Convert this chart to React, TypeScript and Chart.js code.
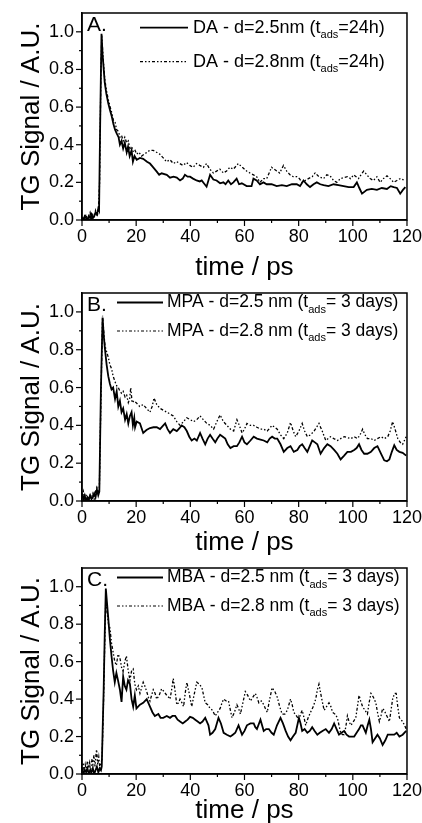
import React, { useEffect, useRef } from 'react';
import { Chart, registerables } from 'chart.js';
Chart.register(...registerables);

const FONT = '"Liberation Sans", Arial, Helvetica, sans-serif';

const xTickLabels = ['0', '20', '40', '60', '80', '100', '120'];
const yTickLabels = ['0.0', '0.2', '0.4', '0.6', '0.8', '1.0'];
const xTitle = 'time / ps';
const yTitle = 'TG Signal / A.U.';

// Panel A: DA, t_ads = 24h
const daSolid = [[0,0.01],[0.5,0.0],[1,0.02],[1.5,0.01],[2,0.0],[2.5,0.02],[3,0.01],[3.5,0.03],[4,0.01],[4.5,0.02],[5,0.04],[5.5,0.03],[6,0.06],[6.3,0.05],[6.7,0.5],[7.2,0.99],[7.6,0.88],[8.4,0.73],[9,0.67],[9.7,0.62],[10.4,0.58],[11,0.55],[11.6,0.51],[12.2,0.48],[12.8,0.46],[13.5,0.44],[14,0.40],[14.6,0.42],[15.2,0.38],[15.8,0.41],[16.5,0.36],[17,0.39],[17.6,0.34],[18.3,0.37],[18.8,0.31],[19.4,0.34],[20.2,0.32],[21.4,0.33],[22.6,0.325],[24,0.31],[25.1,0.30],[26.3,0.28],[27.6,0.257],[28.5,0.24],[29.4,0.248],[31.3,0.24],[32.5,0.225],[33.8,0.23],[35,0.225],[36.2,0.21],[37.2,0.22],[38,0.24],[39,0.23],[39.9,0.23],[41,0.22],[42.3,0.21],[43.5,0.205],[44.2,0.21],[45,0.195],[46,0.177],[47.3,0.24],[48.5,0.215],[49.7,0.21],[51,0.195],[52.2,0.2],[53,0.19],[54,0.21],[55,0.19],[55.9,0.2],[57.1,0.22],[58,0.19],[59,0.195],[60.8,0.18],[62.6,0.18],[63.3,0.22],[64.5,0.21],[65.7,0.19],[67,0.2],[68.2,0.19],[70,0.19],[71.9,0.18],[73.8,0.185],[75.6,0.18],[77.5,0.19],[79.3,0.19],[80.5,0.18],[81.8,0.21],[83,0.19],[84.2,0.175],[85.5,0.19],[86.7,0.2],[88,0.19],[89.2,0.185],[91,0.18],[92.9,0.19],[94.7,0.185],[96.6,0.18],[98.5,0.175],[100.3,0.175],[101.5,0.20],[102.4,0.17],[103.4,0.14],[105.2,0.16],[107,0.165],[108.9,0.16],[110.7,0.17],[112.6,0.165],[114,0.18],[115.1,0.175],[116.3,0.17],[117.5,0.14],[118.5,0.16],[119.4,0.175]];
const daDotted = [[0,0.0],[0.5,0.02],[1,0.01],[1.5,0.03],[2,0.0],[2.5,0.02],[3,0.04],[3.5,0.01],[4,0.03],[4.5,0.02],[5,0.05],[5.5,0.02],[6,0.04],[6.5,0.2],[7,0.8],[7.3,0.98],[7.8,0.86],[8.4,0.75],[9,0.69],[9.7,0.64],[10.4,0.6],[11,0.57],[11.6,0.53],[12.2,0.52],[12.8,0.48],[13.5,0.47],[14,0.44],[14.6,0.45],[15.2,0.42],[15.8,0.44],[16.5,0.41],[17.1,0.42],[17.7,0.38],[18.3,0.39],[19,0.36],[19.6,0.37],[20.2,0.35],[21,0.36],[22,0.34],[23,0.35],[24,0.36],[25,0.37],[26.3,0.37],[27.5,0.36],[28.7,0.35],[30,0.33],[31.2,0.31],[32.5,0.32],[33.7,0.30],[35,0.31],[36.1,0.30],[37.3,0.29],[38.6,0.305],[39.8,0.29],[41,0.28],[42.3,0.30],[43.5,0.29],[44.8,0.28],[46,0.30],[47.2,0.27],[48.5,0.25],[49.7,0.26],[50.9,0.27],[52.2,0.25],[53.4,0.26],[54.6,0.28],[55.9,0.27],[57.7,0.30],[59.2,0.28],[60.8,0.26],[62,0.25],[63.3,0.24],[64.5,0.23],[65.7,0.20],[67,0.22],[68.2,0.22],[70,0.28],[71.9,0.26],[73,0.25],[74.4,0.29],[75.6,0.26],[76.8,0.24],[78,0.23],[79.3,0.23],[80.3,0.22],[81.2,0.20],[82.4,0.21],[83.6,0.22],[85,0.23],[86.1,0.25],[87.5,0.23],[89.2,0.22],[90.4,0.24],[91.6,0.235],[92.9,0.21],[94.1,0.20],[95.4,0.22],[96.6,0.225],[98,0.23],[99.2,0.22],[100.3,0.24],[101.2,0.23],[102.1,0.22],[103,0.24],[104,0.26],[105.2,0.24],[106.4,0.22],[107.6,0.21],[108.9,0.23],[110.1,0.20],[111.3,0.22],[112.6,0.235],[113.8,0.22],[115.1,0.20],[116.3,0.21],[117.5,0.22],[118.5,0.215],[119.4,0.21]];

// Panel B: MPA, t_ads = 3 days
const mpaSolid = [[0,0.04],[0.5,0.01],[1,0.03],[1.5,0.0],[2,0.02],[2.5,0.01],[3,0.03],[3.5,0.01],[4,0.02],[4.5,0.04],[5,0.02],[5.5,0.06],[6,0.03],[6.4,0.05],[7,0.6],[7.6,0.97],[8,0.88],[8.5,0.8],[9.1,0.72],[9.7,0.66],[10.3,0.62],[10.9,0.59],[11.5,0.6],[12.2,0.54],[12.8,0.58],[13.4,0.50],[14,0.53],[14.6,0.47],[15.2,0.49],[15.9,0.43],[16.5,0.46],[17.1,0.41],[17.7,0.45],[18.3,0.47],[18.8,0.40],[19.3,0.44],[19.6,0.39],[20.2,0.42],[21.4,0.41],[22.6,0.36],[23.8,0.375],[25.1,0.386],[26.4,0.39],[27.6,0.39],[28.8,0.38],[29.7,0.395],[30.7,0.41],[31.6,0.38],[32.5,0.36],[33.7,0.38],[35,0.37],[36,0.385],[36.8,0.40],[37.8,0.39],[38.7,0.37],[39.6,0.34],[40.5,0.32],[41.5,0.33],[42.4,0.32],[43.6,0.36],[44.5,0.33],[45.5,0.30],[46.4,0.33],[47.3,0.35],[48.2,0.33],[49.2,0.31],[50,0.33],[51,0.35],[52,0.34],[52.9,0.33],[53.8,0.30],[54.8,0.28],[56,0.29],[57.2,0.29],[58.1,0.31],[59.1,0.34],[60,0.31],[60.9,0.30],[62.2,0.32],[63.4,0.34],[64.6,0.33],[65.9,0.325],[67.1,0.32],[68.4,0.31],[69.3,0.33],[70.2,0.34],[71.2,0.33],[72.1,0.33],[73.3,0.30],[74.5,0.26],[75.8,0.28],[77,0.29],[78.2,0.26],[79.5,0.27],[80.4,0.29],[81.3,0.30],[82.2,0.28],[83.2,0.26],[84.1,0.29],[85,0.32],[86,0.31],[86.9,0.30],[88.1,0.25],[89.4,0.28],[90.6,0.30],[91.8,0.29],[93.1,0.27],[94.3,0.25],[95.5,0.22],[96.8,0.24],[98,0.26],[99.3,0.26],[100.5,0.27],[101.4,0.28],[102.3,0.30],[103.2,0.27],[104.2,0.25],[105.4,0.25],[106.7,0.26],[107.9,0.28],[109.1,0.29],[110.4,0.25],[111.6,0.215],[112.6,0.21],[113.5,0.22],[114.4,0.26],[115.3,0.295],[116.2,0.27],[117.2,0.26],[118.4,0.255],[119.7,0.24]];
const mpaDotted = [[0,0.02],[0.5,0.05],[1,0.01],[1.5,0.03],[2,0.02],[2.5,0.0],[3,0.03],[3.5,0.02],[4,0.04],[4.5,0.01],[5,0.05],[5.5,0.07],[6,0.04],[6.4,0.06],[7,0.55],[7.6,0.98],[8,0.9],[8.5,0.82],[9.1,0.79],[9.7,0.76],[10.3,0.72],[10.9,0.70],[11.5,0.66],[12.2,0.63],[12.8,0.61],[13.4,0.60],[14,0.58],[14.6,0.57],[15.2,0.58],[15.9,0.55],[16.5,0.56],[17.1,0.52],[17.6,0.54],[18,0.60],[18.5,0.52],[19.2,0.53],[20,0.52],[21.3,0.50],[22.6,0.51],[23.8,0.49],[25.1,0.47],[25.9,0.50],[26.6,0.545],[27.6,0.51],[28.8,0.49],[30,0.48],[31.3,0.47],[32.5,0.46],[33.7,0.45],[35,0.42],[36.2,0.40],[37.5,0.42],[38.7,0.44],[40,0.43],[41.2,0.42],[42.4,0.43],[43.6,0.45],[44.8,0.43],[46.1,0.41],[47.3,0.40],[48.6,0.38],[49.8,0.42],[51,0.455],[52.2,0.42],[53.5,0.40],[54.8,0.38],[56,0.37],[57.2,0.43],[58.1,0.40],[59.1,0.36],[60,0.38],[60.9,0.41],[62.2,0.40],[63.4,0.40],[64.6,0.39],[65.9,0.38],[67.1,0.38],[68.4,0.37],[69.3,0.385],[70.2,0.40],[71.2,0.39],[72.1,0.38],[73.3,0.35],[74.5,0.33],[75.8,0.36],[77,0.415],[78,0.37],[78.9,0.34],[80.1,0.37],[81.3,0.41],[82.2,0.37],[83.2,0.34],[84.4,0.35],[85.7,0.37],[86.6,0.39],[87.5,0.41],[88.7,0.37],[90,0.32],[91.8,0.34],[93,0.33],[94.3,0.32],[95.5,0.33],[96.8,0.34],[98,0.335],[99.3,0.33],[100.5,0.34],[101.7,0.33],[102.7,0.35],[103.6,0.38],[104.5,0.35],[105.4,0.33],[106.7,0.33],[107.9,0.32],[109.1,0.33],[110.4,0.34],[111.6,0.33],[112.9,0.34],[113.8,0.37],[114.7,0.42],[115.6,0.38],[116.6,0.33],[117.5,0.31],[118.4,0.30],[119.7,0.34]];

// Panel C: MBA, t_ads = 3 days
const mbaSolid = [[0,0.03],[0.5,0.0],[1,0.02],[1.5,0.01],[2,0.03],[2.5,0.0],[3,0.02],[3.5,0.01],[4,0.03],[4.5,0.0],[5,0.02],[5.5,0.04],[6,0.01],[6.5,0.03],[7,0.02],[7.3,0.04],[7.6,0.22],[8,0.45],[8.4,0.75],[8.8,0.99],[9.2,0.92],[9.6,0.85],[10.3,0.72],[10.9,0.63],[11.5,0.55],[12.1,0.49],[12.7,0.54],[13.3,0.50],[14,0.45],[14.6,0.385],[15.2,0.52],[15.8,0.47],[16.4,0.45],[17,0.50],[17.7,0.48],[18.3,0.40],[18.9,0.36],[19.5,0.42],[20.1,0.35],[21.4,0.37],[22.6,0.38],[23.9,0.40],[25.1,0.36],[26,0.33],[26.9,0.31],[28.2,0.32],[29,0.30],[30,0.30],[31.3,0.31],[32.5,0.30],[33.4,0.31],[34.4,0.31],[35.3,0.29],[36.2,0.28],[37.2,0.27],[38.1,0.28],[39,0.29],[39.9,0.305],[40.9,0.30],[41.8,0.29],[42.7,0.28],[43.6,0.27],[44.5,0.28],[45.5,0.30],[46.1,0.28],[46.7,0.26],[47.3,0.21],[48.2,0.22],[49.2,0.24],[50.4,0.30],[51.3,0.27],[52.3,0.22],[53.5,0.21],[54.8,0.20],[55.7,0.21],[56.6,0.22],[57.8,0.26],[59.1,0.21],[60,0.23],[60.9,0.26],[62.2,0.27],[63.4,0.27],[64,0.25],[64.6,0.24],[65.9,0.29],[67.1,0.23],[68,0.24],[69,0.24],[70,0.22],[70.8,0.21],[72,0.26],[73.3,0.30],[74.2,0.27],[75.2,0.23],[76.1,0.20],[77,0.18],[77.9,0.20],[78.9,0.22],[80.1,0.30],[80.7,0.27],[81.3,0.23],[82.2,0.24],[83.2,0.22],[84.1,0.23],[85,0.25],[85.9,0.23],[86.9,0.21],[87.8,0.22],[88.8,0.23],[90,0.24],[91.2,0.22],[92.2,0.24],[93.1,0.27],[94,0.24],[94.9,0.21],[95.8,0.22],[96.8,0.23],[97.7,0.21],[98.6,0.20],[99.6,0.20],[100.5,0.20],[101.4,0.22],[102.3,0.24],[103,0.26],[103.6,0.26],[104.2,0.24],[104.8,0.22],[105.5,0.26],[106.1,0.29],[106.7,0.24],[107.3,0.17],[108.2,0.19],[109.1,0.21],[110,0.19],[111,0.155],[112,0.18],[112.9,0.21],[114.1,0.21],[115.3,0.21],[116.2,0.22],[117.2,0.20],[118.4,0.21],[119.7,0.23]];
const mbaDotted = [[0,0.02],[0.4,0.06],[0.8,0.01],[1.2,0.05],[1.6,0.02],[2,0.07],[2.4,0.03],[2.8,0.06],[3.2,0.02],[3.6,0.08],[4,0.05],[4.4,0.10],[4.8,0.04],[5.2,0.11],[5.4,0.13],[5.8,0.05],[6.2,0.09],[6.6,0.03],[7,0.06],[7.4,0.08],[7.9,0.35],[8.4,0.70],[8.8,0.95],[9.3,0.86],[9.8,0.80],[10.3,0.78],[10.9,0.70],[11.5,0.65],[12.1,0.60],[12.7,0.58],[13.3,0.64],[14,0.62],[14.6,0.57],[15.2,0.55],[15.8,0.60],[16.4,0.63],[17,0.56],[17.7,0.50],[18.3,0.55],[18.9,0.56],[19.5,0.48],[20.1,0.45],[20.8,0.47],[21.4,0.43],[22,0.46],[22.6,0.49],[23.2,0.47],[23.9,0.44],[24.5,0.41],[25.1,0.39],[25.7,0.42],[26.3,0.45],[27,0.43],[27.6,0.40],[28.5,0.42],[29.4,0.455],[30.3,0.44],[31.3,0.42],[32,0.41],[32.5,0.40],[33.1,0.45],[33.7,0.51],[34.4,0.44],[35,0.37],[35.6,0.38],[36.2,0.40],[36.9,0.38],[37.5,0.36],[38.1,0.43],[38.7,0.49],[39.6,0.43],[40.5,0.36],[41.5,0.43],[42.4,0.49],[43.3,0.48],[44.3,0.46],[44.9,0.42],[45.5,0.38],[46.4,0.37],[47.3,0.35],[48.2,0.34],[49.2,0.31],[50.1,0.33],[51,0.35],[51.7,0.38],[52.3,0.40],[53.2,0.39],[54.1,0.39],[54.8,0.34],[55.4,0.30],[56.3,0.33],[57.2,0.37],[57.8,0.35],[58.5,0.32],[59.4,0.38],[60.3,0.44],[61.2,0.42],[62.2,0.39],[63.1,0.41],[64,0.43],[64.6,0.41],[65.3,0.38],[66.2,0.39],[67.1,0.37],[67.7,0.35],[68.4,0.33],[69.3,0.40],[70.2,0.46],[71.2,0.44],[72.1,0.41],[73,0.36],[73.9,0.32],[74.9,0.32],[75.8,0.34],[76.4,0.37],[77,0.40],[77.6,0.37],[78.2,0.33],[79.2,0.31],[80.1,0.29],[80.7,0.32],[81.3,0.34],[82,0.30],[82.6,0.26],[83.5,0.30],[84.4,0.33],[85.4,0.36],[86.3,0.40],[86.9,0.45],[87.5,0.48],[88.4,0.41],[89.4,0.34],[90.3,0.36],[91.2,0.38],[91.9,0.36],[92.5,0.33],[93.4,0.32],[94.3,0.30],[94.9,0.26],[95.5,0.22],[96.2,0.21],[96.8,0.21],[97.4,0.25],[98,0.31],[98.6,0.28],[99.3,0.26],[100.2,0.28],[101.1,0.30],[101.7,0.36],[102.3,0.42],[102.9,0.39],[103.6,0.36],[104.5,0.34],[105.4,0.32],[106,0.38],[106.7,0.43],[107.6,0.41],[108.5,0.38],[109.1,0.33],[109.8,0.28],[110.4,0.31],[111,0.35],[111.6,0.34],[112.2,0.32],[112.9,0.30],[113.5,0.28],[114.1,0.34],[114.7,0.40],[115.4,0.43],[116,0.43],[116.6,0.36],[117.2,0.30],[117.8,0.29],[118.4,0.28],[119.1,0.26],[119.7,0.24]];

const legendA = [['DA - d=2.5nm (t', 'ads', '=24h)'], ['DA - d=2.8nm (t', 'ads', '=24h)']];
const legendB = [['MPA - d=2.5 nm (t', 'ads', '= 3 days)'], ['MPA - d=2.8 nm (t', 'ads', '= 3 days)']];
const legendC = [['MBA - d=2.5 nm (t', 'ads', '= 3 days)'], ['MBA - d=2.8 nm (t', 'ads', '= 3 days)']];

const DASH = [3, 2, 1.5, 2, 1.5, 2];

type PanelProps = {
  solid: number[][];
  dotted: number[][];
  label: string;
  legend: string[][];
  top: number;
  height: number;
  plotBottom: number;
  titlePad: number;
  titleLH: number;
  lx0: number; lx1: number; tx: number; rows: number[]; fs: number;
};

function Panel(p: PanelProps) {
  const ref = useRef<HTMLCanvasElement>(null);
  useEffect(() => {
    const PLOT_TOP = 13;
    const xAxisH = p.height - p.plotBottom;
    const decor = {
      id: 'decor',
      afterDraw(chart: any) {
        const { ctx, chartArea: a, scales } = chart;
        ctx.save();
        ctx.strokeStyle = '#000';
        ctx.fillStyle = '#000';
        ctx.lineWidth = 1.5;
        ctx.strokeRect(a.left, a.top, a.right - a.left, a.bottom - a.top);
        ctx.lineWidth = 1.2;
        for (let i = 0; i <= 10; i++) {
          const y = scales.y.getPixelForValue(i / 10);
          const len = i % 2 === 0 ? 6 : 3;
          ctx.beginPath(); ctx.moveTo(a.left - len, y); ctx.lineTo(a.left, y); ctx.stroke();
        }
        for (let i = 0; i <= 12; i++) {
          const x = scales.x.getPixelForValue(i * 10);
          const len = i % 2 === 0 ? 6 : 3;
          ctx.beginPath(); ctx.moveTo(x, a.bottom); ctx.lineTo(x, a.bottom + len); ctx.stroke();
        }
        ctx.textAlign = 'left';
        ctx.textBaseline = 'alphabetic';
        ctx.font = `21px ${FONT}`;
        ctx.fillText(p.label, a.left + 5, a.top + 18);
        p.legend.forEach((row, i) => {
          const y = a.top + p.rows[i];
          ctx.beginPath();
          ctx.lineWidth = i === 0 ? 1.8 : 1.2;
          ctx.setLineDash(i === 0 ? [] : DASH);
          ctx.moveTo(p.lx0, y); ctx.lineTo(p.lx1, y); ctx.stroke();
          ctx.setLineDash([]);
          let x = p.tx;
          ctx.textBaseline = 'middle';
          ctx.font = `${p.fs}px ${FONT}`;
          ctx.fillText(row[0], x, y); x += ctx.measureText(row[0]).width;
          ctx.font = `11px ${FONT}`;
          ctx.fillText(row[1], x, y + 7); x += ctx.measureText(row[1]).width;
          ctx.font = `${p.fs}px ${FONT}`;
          ctx.fillText(row[2], x, y);
        });
        ctx.restore();
      },
    };
    const chart = new Chart(ref.current!, {
      type: 'line',
      data: {
        datasets: [
          { data: p.solid.map(([x, y]) => ({ x, y })), borderColor: '#000', borderWidth: 1.8, pointRadius: 0, tension: 0, fill: false },
          { data: p.dotted.map(([x, y]) => ({ x, y })), borderColor: '#000', borderWidth: 1.3, borderDash: DASH, pointRadius: 0, tension: 0, fill: false },
        ],
      },
      options: {
        responsive: false,
        animation: false,
        devicePixelRatio: 1,
        layout: { padding: { top: PLOT_TOP, right: 15, left: 0, bottom: 0 } },
        plugins: { legend: { display: false }, tooltip: { enabled: false } },
        scales: {
          x: {
            type: 'linear', min: 0, max: 120,
            afterFit(s: any) { s.height = xAxisH; },
            grid: { display: false, drawTicks: true, tickLength: 6 },
            border: { display: true, color: '#000', width: 1.5 },
            ticks: {
              stepSize: 10, autoSkip: false, maxRotation: 0, padding: 0, color: '#000',
              font: { family: FONT, size: 18 },
              callback: (v: any) => { const s = String(Math.round(v)); return xTickLabels.includes(s) ? s : ''; },
            },
            title: { display: true, text: xTitle, color: '#000', font: { family: FONT, size: 26, lineHeight: p.titleLH }, padding: { top: 0, bottom: p.titlePad } },
          },
          y: {
            type: 'linear', min: 0, max: 1.1,
            afterFit(s: any) { s.width = 82; },
            grid: { display: false, drawTicks: true, tickLength: 6 },
            border: { display: true, color: '#000', width: 1.5 },
            ticks: {
              stepSize: 0.1, autoSkip: false, padding: 2, color: '#000',
              font: { family: FONT, size: 18 },
              callback: (v: any) => { const s = (Math.round(v * 10) / 10).toFixed(1); return yTickLabels.includes(s) ? s : ''; },
            },
            title: { display: true, text: yTitle, color: '#000', font: { family: FONT, size: 26 }, padding: { top: 16, bottom: 0 } },
          },
        },
      },
      plugins: [decor],
    } as any);
    return () => chart.destroy();
  }, []);
  return (
    <canvas ref={ref} width={422} height={p.height}
      style={{ position: 'absolute', left: 0, top: p.top, width: 422, height: p.height }} />
  );
}

export default function App() {
  return (
    <div style={{ position: 'absolute', left: 0, top: 0, width: 422, height: 823, background: '#fff' }}>
      <Panel solid={daSolid} dotted={daDotted} label="A." legend={legendA} top={0} height={285} plotBottom={220} titlePad={2} titleLH={1.2}
        lx0={140} lx1={188} tx={193} rows={[14.7, 48.7]} fs={18} />
      <Panel solid={mpaSolid} dotted={mpaDotted} label="B." legend={legendB} top={280} height={285} plotBottom={221} titlePad={7} titleLH={1.2}
        lx0={117} lx1={163} tx={167} rows={[9.5, 38]} fs={17.5} />
      <Panel solid={mbaSolid} dotted={mbaDotted} label="C." legend={legendC} top={555} height={268} plotBottom={219} titlePad={0} titleLH={0.95}
        lx0={117} lx1={163} tx={167} rows={[9.5, 38]} fs={17.5} />
    </div>
  );
}
